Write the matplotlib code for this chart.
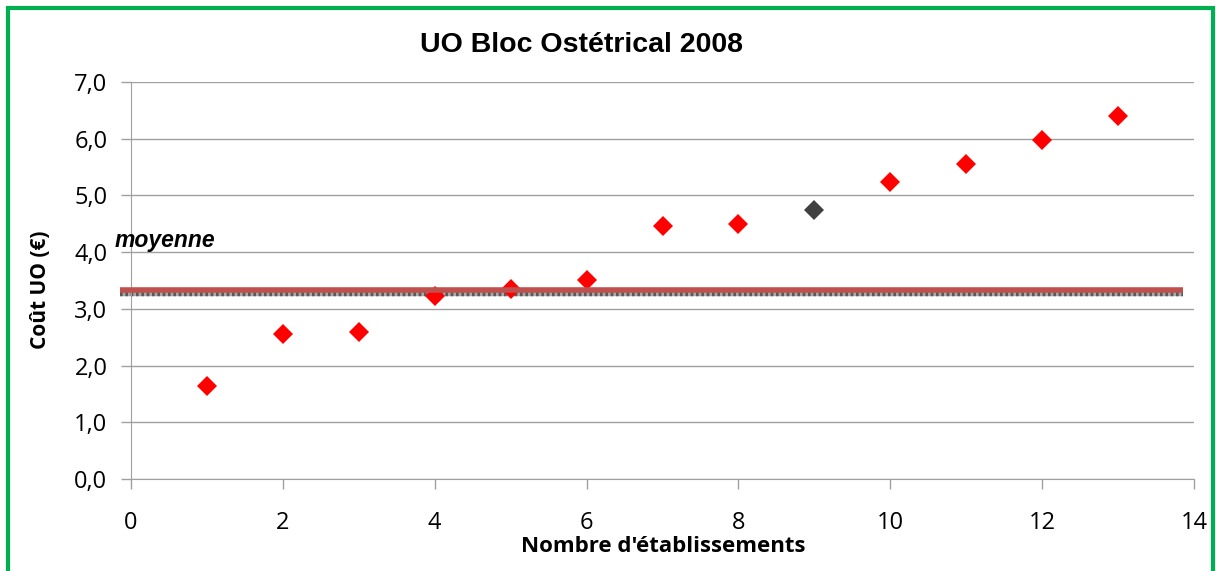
import matplotlib.pyplot as plt
from matplotlib.patches import Rectangle

# data
etablissements = [1, 2, 3, 4, 5, 6, 7, 8, 9, 10, 11, 12, 13]
cout_uo = [1.64, 2.56, 2.59, 3.23, 3.35, 3.51, 4.46, 4.50, 4.74, 5.24, 5.56, 5.98, 6.40]
point_colors = ['red'] * 8 + ['#404040'] + ['red'] * 4
moyenne_rouge = 3.33
moyenne_grise = 3.27
moyenne_x = [-0.15, 13.86]
y_ticks = [0, 1, 2, 3, 4, 5, 6, 7]
x_ticks = [0, 2, 4, 6, 8, 10, 12, 14]

fig = plt.figure(figsize=(12.16, 5.71), dpi=100)
ax = fig.add_axes([131 / 1216, 1 - 479 / 571, (1194 - 131) / 1216, (479 - 82) / 571])

# mean lines
ax.plot(moyenne_x, [moyenne_grise] * 2, color='#a8a8a8', lw=3.2, solid_capstyle='butt', zorder=2, clip_on=False)
ax.plot(moyenne_x, [moyenne_grise] * 2, color='#5a5a5a', lw=3.2, ls=(0, (0.6, 0.6)), zorder=2, clip_on=False)
ax.plot(moyenne_x, [moyenne_rouge] * 2, color='#c0504d', lw=4, solid_capstyle='butt', zorder=3, clip_on=False)

for x, y, c in zip(etablissements, cout_uo, point_colors):
    ax.plot(x, y, marker='D', ms=10.5, color=c, mew=0, ls='none', zorder=2.5)

ax.set_xlim(0, 14)
ax.set_ylim(0, 7)
ax.set_xticks(x_ticks)
ax.set_yticks(y_ticks)
ax.set_yticklabels([f"{v:.1f}".replace('.', ',') for v in y_ticks])
ax.grid(axis='y', color='#a0a0a0', lw=1)
ax.set_axisbelow(True)
for s in ['top', 'right']:
    ax.spines[s].set_visible(False)
for s in ['left', 'bottom']:
    ax.spines[s].set_color('#a0a0a0')
ax.tick_params(axis='both', colors='#a0a0a0', length=7, width=1, labelcolor='black',
               labelsize=17)
ax.tick_params(axis='x', pad=16)
ax.tick_params(axis='y', pad=10)
for lab in ax.get_xticklabels() + ax.get_yticklabels():
    lab.set_family('Open Sans')

fig.text(581 / 1216, 1 - 45 / 571, 'UO Bloc Ostétrical 2008', ha='center', va='center',
         fontsize=20.5, fontweight='bold', family='Liberation Sans')
fig.text(40 / 1216, 1 - 290 / 571, 'Coût UO (€)', ha='center', va='center', rotation=90,
         fontsize=15, fontweight='bold', family='Open Sans')
fig.text(663 / 1216, 1 - 547 / 571, "Nombre d'établissements", ha='center', va='center',
         fontsize=16, fontweight='bold', family='Open Sans')
fig.text(115 / 1216, 1 - 241 / 571, 'moyenne', ha='left', va='center',
         fontsize=16.5, fontweight='bold', style='italic', family='Liberation Sans')

# green frame
fig.patches.append(Rectangle((8 / 1216, -0.05), (1213 - 8) / 1216, 1.05 - 8 / 571,
                             transform=fig.transFigure, fill=False, ec='#00b050', lw=3))

fig.savefig('out.png', dpi=100)
